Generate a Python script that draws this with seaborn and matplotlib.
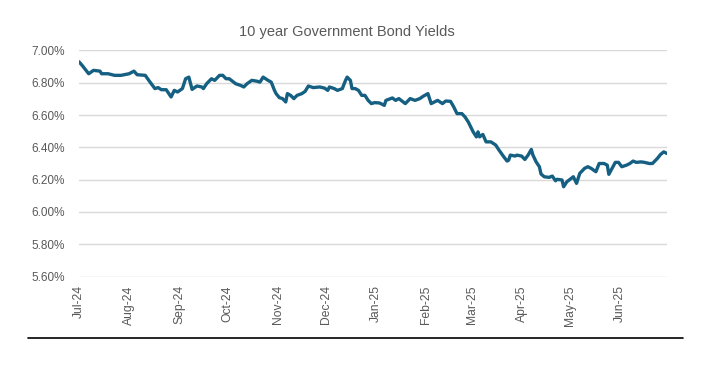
import numpy as np
import pandas as pd
import matplotlib
matplotlib.use("Agg")
import matplotlib.pyplot as plt
import matplotlib.dates as mdates
from matplotlib.lines import Line2D
from matplotlib.ticker import FuncFormatter
import seaborn as sns

# ── Data ─────────────────────────────────────────────────────────────────────
dates = [
    "2024-07-01", "2024-07-03", "2024-07-07", "2024-07-10", "2024-07-14", "2024-07-15",
    "2024-07-19", "2024-07-23", "2024-07-27", "2024-08-01", "2024-08-04", "2024-08-06",
    "2024-08-11", "2024-08-14", "2024-08-17", "2024-08-19", "2024-08-21", "2024-08-24",
    "2024-08-27", "2024-08-29", "2024-08-31", "2024-09-03", "2024-09-05", "2024-09-07",
    "2024-09-09", "2024-09-12", "2024-09-15", "2024-09-16", "2024-09-18", "2024-09-21",
    "2024-09-23", "2024-09-26", "2024-09-28", "2024-09-30", "2024-10-02", "2024-10-06",
    "2024-10-09", "2024-10-11", "2024-10-13", "2024-10-16", "2024-10-19", "2024-10-21",
    "2024-10-23", "2024-10-26", "2024-10-28", "2024-10-30", "2024-10-31", "2024-11-02",
    "2024-11-04", "2024-11-06", "2024-11-07", "2024-11-09", "2024-11-11", "2024-11-13",
    "2024-11-16", "2024-11-18", "2024-11-20", "2024-11-23", "2024-11-27", "2024-11-30",
    "2024-12-02", "2024-12-03", "2024-12-06", "2024-12-08", "2024-12-11", "2024-12-13",
    "2024-12-14", "2024-12-16", "2024-12-17", "2024-12-19", "2024-12-21", "2024-12-23",
    "2024-12-25", "2024-12-27", "2024-12-29", "2024-12-31", "2025-01-03", "2025-01-06",
    "2025-01-07", "2025-01-11", "2025-01-13", "2025-01-15", "2025-01-19", "2025-01-22",
    "2025-01-25", "2025-01-28", "2025-01-30", "2025-02-02", "2025-02-04", "2025-02-06",
    "2025-02-08", "2025-02-11", "2025-02-13", "2025-02-16", "2025-02-18", "2025-02-20",
    "2025-02-23", "2025-02-25", "2025-02-27", "2025-03-01", "2025-03-02", "2025-03-04",
    "2025-03-05", "2025-03-06", "2025-03-08", "2025-03-10", "2025-03-13", "2025-03-16",
    "2025-03-18", "2025-03-21", "2025-03-23", "2025-03-24", "2025-03-25", "2025-03-28",
    "2025-03-29", "2025-04-01", "2025-04-03", "2025-04-05", "2025-04-07", "2025-04-08",
    "2025-04-10", "2025-04-12", "2025-04-13", "2025-04-15", "2025-04-18", "2025-04-20",
    "2025-04-22", "2025-04-23", "2025-04-26", "2025-04-27", "2025-04-29", "2025-05-01",
    "2025-05-03", "2025-05-05", "2025-05-07", "2025-05-10", "2025-05-12", "2025-05-14",
    "2025-05-17", "2025-05-19", "2025-05-22", "2025-05-24", "2025-05-25", "2025-05-27",
    "2025-05-29", "2025-05-31", "2025-06-02", "2025-06-05", "2025-06-07", "2025-06-09",
    "2025-06-11", "2025-06-14", "2025-06-16", "2025-06-19", "2025-06-21", "2025-06-24",
    "2025-06-26", "2025-06-28", "2025-06-30",
]
yields = [
    6.930, 6.907, 6.856, 6.877, 6.872, 6.856,
    6.856, 6.846, 6.846, 6.856, 6.872, 6.850,
    6.846, 6.804, 6.764, 6.770, 6.757, 6.757,
    6.712, 6.753, 6.743, 6.764, 6.825, 6.835,
    6.759, 6.780, 6.774, 6.764, 6.794, 6.825,
    6.815, 6.846, 6.846, 6.825, 6.825, 6.794,
    6.784, 6.774, 6.794, 6.815, 6.810, 6.804,
    6.835, 6.815, 6.804, 6.753, 6.733, 6.708,
    6.702, 6.681, 6.733, 6.722, 6.702, 6.722,
    6.733, 6.747, 6.780, 6.770, 6.774, 6.767,
    6.753, 6.774, 6.764, 6.753, 6.764, 6.815,
    6.835, 6.815, 6.764, 6.764, 6.753, 6.722,
    6.722, 6.691, 6.671, 6.677, 6.675, 6.660,
    6.691, 6.706, 6.691, 6.702, 6.671, 6.702,
    6.691, 6.702, 6.716, 6.733, 6.671, 6.681,
    6.691, 6.671, 6.687, 6.685, 6.650, 6.609,
    6.609, 6.588, 6.557, 6.517, 6.496, 6.465,
    6.496, 6.465, 6.480, 6.434, 6.434, 6.414,
    6.383, 6.341, 6.315, 6.321, 6.352, 6.346,
    6.352, 6.346, 6.325, 6.352, 6.387, 6.352,
    6.310, 6.280, 6.235, 6.218, 6.214, 6.222,
    6.193, 6.202, 6.198, 6.156, 6.187, 6.202,
    6.218, 6.177, 6.239, 6.270, 6.280, 6.270,
    6.249, 6.300, 6.300, 6.290, 6.233, 6.270,
    6.307, 6.307, 6.280, 6.290, 6.300, 6.315,
    6.307, 6.310, 6.307, 6.300, 6.300, 6.331,
    6.356, 6.372, 6.362,
]
month_ticks = ["2024-07-01", "2024-08-01", "2024-09-01", "2024-10-01",
               "2024-11-01", "2024-12-01", "2025-01-01", "2025-02-01",
               "2025-03-01", "2025-04-01", "2025-05-01", "2025-06-01"]
y_ticks = [5.60, 5.80, 6.00, 6.20, 6.40, 6.60, 6.80, 7.00]
title = "10 year Government Bond Yields"

LINE_COLOR = "#156082"
TEXT_COLOR = "#595959"
GRID_COLOR = "#d9d9d9"

df = pd.DataFrame({"date": pd.to_datetime(dates), "yield": yields})

# ── Plot ─────────────────────────────────────────────────────────────────────
sns.set_theme(style="white")
plt.rcParams["font.family"] = ["Liberation Sans", "DejaVu Sans"]

fig = plt.figure(figsize=(7.11, 3.69), dpi=100)
ax = fig.add_axes([79 / 711, 1 - 277 / 369, (667 - 79) / 711, (277 - 50) / 369])

sns.lineplot(data=df, x="date", y="yield", ax=ax, color=LINE_COLOR,
             linewidth=2.4, solid_joinstyle="round", solid_capstyle="round")

ax.set_xlim(pd.Timestamp("2024-07-01"), pd.Timestamp("2025-06-30"))
ax.set_ylim(y_ticks[0] - 0.003, y_ticks[-1] + 0.003)
ax.set_yticks(y_ticks)
ax.yaxis.set_major_formatter(FuncFormatter(lambda v, _: f"{v:.2f}%"))
ax.set_xticks(pd.to_datetime(month_ticks))
ax.xaxis.set_major_formatter(mdates.DateFormatter("%b-%y"))

ax.grid(axis="y", color=GRID_COLOR, linewidth=1)
ax.grid(axis="x", visible=False)
ax.set_axisbelow(True)
for s in ax.spines.values():
    s.set_visible(False)
ax.set_xlabel("")
ax.set_ylabel("")
ax.tick_params(axis="y", length=0, pad=10, labelsize=8.5, labelcolor=TEXT_COLOR)
ax.tick_params(axis="x", length=0, pad=6, labelsize=8.7, labelcolor=TEXT_COLOR,
               labelrotation=90)

fig.text(347 / 711, 1 - 32 / 369, title, ha="center", va="center",
         fontsize=10.5, color=TEXT_COLOR)

# black rule under the chart
fig.add_artist(Line2D([28 / 711, 683 / 711], [1 - 338 / 369, 1 - 338 / 369],
                      color="black", linewidth=1.2))

fig.savefig("out.png", dpi=100)
plt.close(fig)
